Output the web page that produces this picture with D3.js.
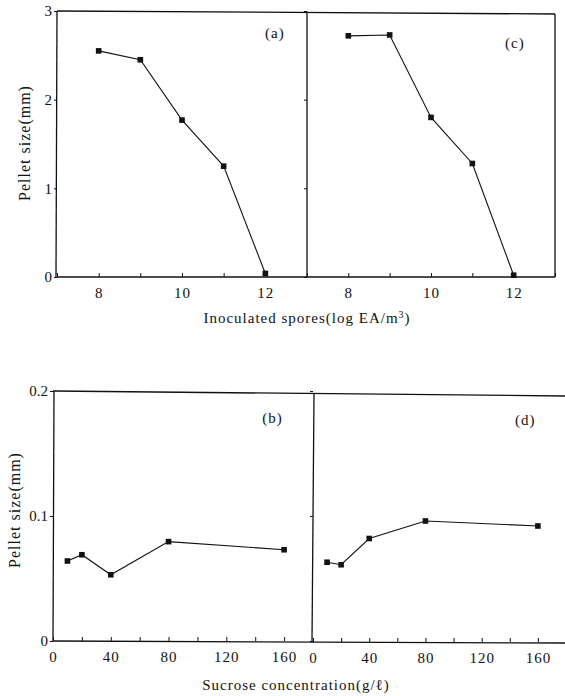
<!DOCTYPE html>
<html>
<head>
<meta charset="utf-8">
<script src="https://cdn.jsdelivr.net/npm/d3@7"></script>
<style>
  body { margin: 0; background: #fff; }
  svg { display: block; font-family: "Liberation Serif", "DejaVu Serif", serif; }
  .domain { display: none; }
</style>
</head>
<body>
<svg id="chart" width="565" height="696"></svg>
<script>
// log spore count (a, c) and sucrose g/l (b, d)
const sporesX = [8, 9, 10, 11, 12];
const sizeA = [2.55, 2.45, 1.77, 1.25, 0.04];
const sizeC = [2.72, 2.73, 1.80, 1.28, 0.02];
const sucroseX = [10, 20, 40, 80, 160];
const sizeB = [0.064, 0.069, 0.053, 0.0795, 0.073];
const sizeD = [0.063, 0.061, 0.082, 0.096, 0.092];

const sporeTicks = [7, 8, 9, 10, 11, 12, 13];
const sporeLabels = [8, 10, 12];
const sucroseTicks = [0, 20, 40, 60, 80, 100, 120, 140, 160, 180];
const sucroseLabels = [0, 40, 80, 120, 160];
const topYTicks = [0, 1, 2, 3];
const botYTicks = [0, 0.1, 0.2];
const botYLabels = ["0", "0.1", "0.2"];

const svg = d3.select("#chart");

// top row: 3 -> y 11, 0 -> y 277
const yTop = d3.scaleLinear().domain([0, 3]).range([277, 11]);
const xA = d3.scaleLinear().domain([7, 13]).range([57, 307]);
const xC = d3.scaleLinear().domain([7, 13]).range([307, 555]);

// bottom row: 0.2 -> y 391, 0 -> y 641
const yBot = d3.scaleLinear().domain([0, 0.2]).range([641, 391]);
const xB = d3.scaleLinear().domain([0, 180]).range([53, 313]);
const xD = d3.scaleLinear().domain([0, 180]).range([313, 566]);

const panels = [
  { x: xA, y: yTop, xs: sporesX, ys: sizeA, name: "(a)", lx: 12.23, ly: 2.69 },
  { x: xC, y: yTop, xs: sporesX, ys: sizeC, name: "(c)", lx: 12.03, ly: 2.58 },
  { x: xB, y: yBot, xs: sucroseX, ys: sizeB, name: "(b)", lx: 152, ly: 0.1745 },
  { x: xD, y: yBot, xs: sucroseX, ys: sizeD, name: "(d)", lx: 151, ly: 0.173 }
];

// frames
const frame = svg.append("g").attr("stroke", "#111").attr("stroke-width", 1.3);
frame.append("line").attr("x1", 57).attr("x2", 555).attr("y1", yTop(3)).attr("y2", yTop(3) + 3);
frame.append("line").attr("x1", 57).attr("x2", 555).attr("y1", yTop(0)).attr("y2", yTop(0));
frame.append("line").attr("x1", 57).attr("x2", 56).attr("y1", yTop(3)).attr("y2", yTop(0));
frame.append("line").attr("x1", 307).attr("x2", 307).attr("y1", yTop(3) + 1.5).attr("y2", yTop(0));
frame.append("line").attr("x1", 555).attr("x2", 555).attr("y1", yTop(3) + 3).attr("y2", yTop(0));

frame.append("line").attr("x1", 53).attr("x2", 565).attr("y1", yBot(0.2)).attr("y2", yBot(0.2) + 5);
frame.append("line").attr("x1", 53).attr("x2", 565).attr("y1", yBot(0)).attr("y2", yBot(0) + 2);
frame.append("line").attr("x1", 54).attr("x2", 53).attr("y1", yBot(0.2)).attr("y2", yBot(0));
frame.append("line").attr("x1", 314).attr("x2", 312).attr("y1", yBot(0.2) + 2).attr("y2", yBot(0) + 1);

// x axes
function xAxis(scale, y, ticks, labels) {
  const g = svg.append("g")
    .attr("transform", `translate(0,${y})`)
    .call(d3.axisBottom(scale)
      .tickValues(ticks)
      .tickSizeInner(-4)
      .tickSizeOuter(0)
      .tickPadding(10)
      .tickFormat(d => labels.includes(d) ? d : ""));
  g.selectAll("line").attr("stroke", "#111");
  g.selectAll("text").attr("font-size", 15).attr("fill", "#111")
    .attr("font-family", "Liberation Serif").attr("letter-spacing", 1);
}
xAxis(xA, yTop(0), sporeTicks, sporeLabels);
xAxis(xC, yTop(0), sporeTicks, sporeLabels);
xAxis(xB, yBot(0), sucroseTicks.slice(0, 9), sucroseLabels);
xAxis(xD, yBot(0) + 1, sucroseTicks, sucroseLabels);

// y axes
function yAxis(scale, x, ticks, fmt) {
  const g = svg.append("g")
    .attr("transform", `translate(${x},0)`)
    .call(d3.axisLeft(scale)
      .tickValues(ticks)
      .tickSizeInner(3)
      .tickSizeOuter(0)
      .tickPadding(2)
      .tickFormat(fmt));
  g.selectAll("line").attr("stroke", "#111");
  g.selectAll("text").attr("font-size", 15).attr("fill", "#111")
    .attr("font-family", "Liberation Serif");
}
yAxis(yTop, 57, topYTicks, d => d);
yAxis(yTop, 307, topYTicks, () => "");
yAxis(yBot, 53, botYTicks, (d, i) => botYLabels[i]);
yAxis(yBot, 313, botYTicks, () => "");

// series
panels.forEach(p => {
  const pts = p.xs.map((v, i) => [p.x(v), p.y(p.ys[i])]);
  svg.append("path")
    .attr("d", d3.line()(pts))
    .attr("fill", "none")
    .attr("stroke", "#111")
    .attr("stroke-width", 1.1);
  svg.append("g").selectAll("rect")
    .data(pts)
    .join("rect")
    .attr("x", d => d[0] - 2.8)
    .attr("y", d => d[1] - 2.8)
    .attr("width", 5.6)
    .attr("height", 5.6)
    .attr("fill", "#111");
  svg.append("text")
    .attr("x", p.x(p.lx))
    .attr("y", p.y(p.ly))
    .attr("text-anchor", "middle")
    .attr("font-size", 15)
    .attr("letter-spacing", 1)
    .attr("fill", "#111")
    .text(p.name);
});

// axis titles
svg.append("text")
  .attr("transform", "translate(30,143) rotate(-90)")
  .attr("text-anchor", "middle")
  .attr("font-size", 16)
  .attr("letter-spacing", 1)
  .attr("fill", "#111")
  .text("Pellet size(mm)");
svg.append("text")
  .attr("transform", "translate(20,510) rotate(-90)")
  .attr("text-anchor", "middle")
  .attr("font-size", 16)
  .attr("letter-spacing", 1)
  .attr("fill", "#111")
  .text("Pellet size(mm)");

const xt = svg.append("text")
  .attr("x", 307)
  .attr("y", 323)
  .attr("text-anchor", "middle")
  .attr("font-size", 15)
  .attr("letter-spacing", 1)
  .attr("fill", "#111");
xt.append("tspan").text("Inoculated spores(log EA/m");
xt.append("tspan").attr("dy", -5).attr("font-size", 10).text("3");
xt.append("tspan").attr("dy", 5).text(")");

svg.append("text")
  .attr("x", 296)
  .attr("y", 690)
  .attr("text-anchor", "middle")
  .attr("font-size", 15)
  .attr("letter-spacing", 1)
  .attr("fill", "#111")
  .text("Sucrose concentration(g/ℓ)");
</script>
</body>
</html>
